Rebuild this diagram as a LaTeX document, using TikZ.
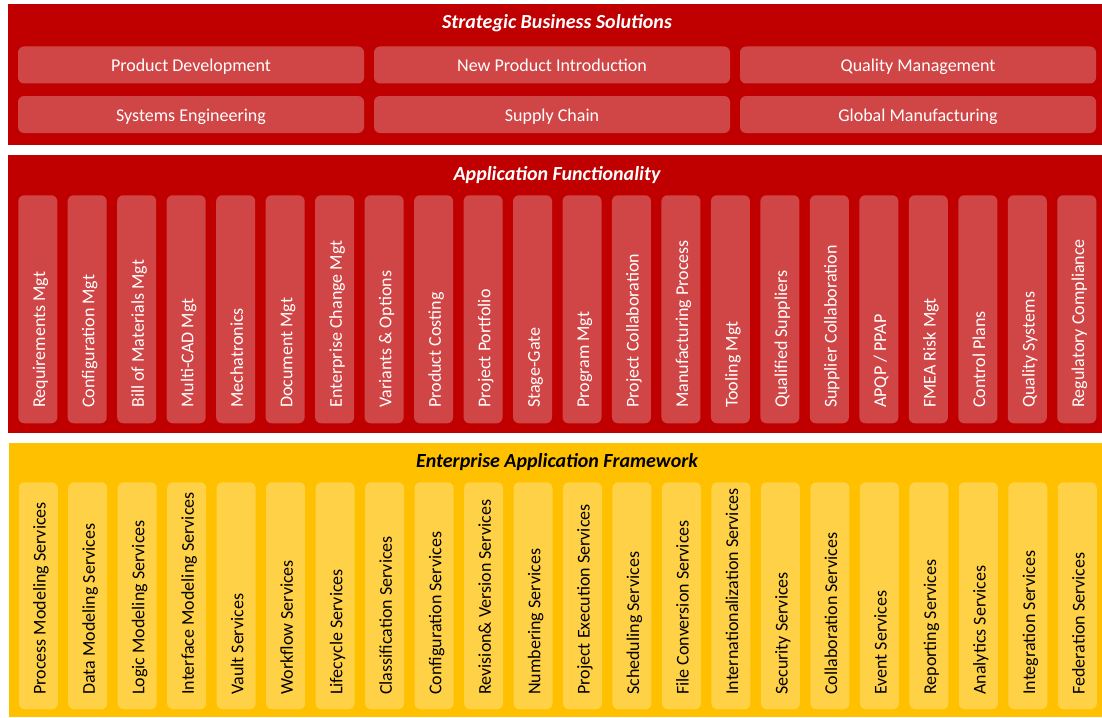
\documentclass[tikz,border=0pt]{standalone}
\usepackage{fontspec}
\setmainfont{Carlito}
\definecolor{panelred}{HTML}{C00000}
\definecolor{boxred}{HTML}{D04646}
\definecolor{panelyel}{HTML}{FFC000}
\definecolor{boxyel}{HTML}{FFD147}
\begin{document}
\begin{tikzpicture}[x=0.75pt,y=0.75pt,
  txt/.style={font=\fontsize{13.5}{16}\selectfont},
  ttl/.style={font=\fontsize{15}{18}\selectfont\bfseries\itshape, inner sep=0, anchor=base},
  panel/.style={rectangle, inner sep=0, draw=none, anchor=north west},
  topbox/.style={rectangle, fill=boxred, rounded corners=4.5pt, inner sep=0, text=white, txt,
    minimum height=37*0.75pt, text height=11pt, text depth=1pt},
  colred/.style={rectangle, fill=boxred, rounded corners=4.5pt, inner sep=0, anchor=north west,
    minimum width=39*0.75pt, minimum height=228*0.75pt},
  colyel/.style={rectangle, fill=boxyel, rounded corners=4.5pt, inner sep=0, anchor=north west,
    minimum width=39*0.75pt, minimum height=227*0.75pt},
  coltext/.style={txt, inner sep=0, anchor=base west, rotate=90}
]
\useasboundingbox (0,0) rectangle (1102,-717);
\fill[white] (0,0) rectangle (1102,-717);

% panels
\node[panel, fill=panelred, minimum width=1094*0.75pt, minimum height=141*0.75pt] (p1) at (8,-4) {};
\node[panel, fill=panelred, minimum width=1094*0.75pt, minimum height=277.7*0.75pt] (p2) at (8,-155) {};
\node[panel, fill=panelyel, minimum width=1093*0.75pt, minimum height=274.3*0.75pt] (p3) at (9,-442.7) {};

% titles
\node[ttl, text=white] (t1) at (557,-28.5) {Strategic Business Solutions};
\node[ttl, text=white] (t2) at (557,-180) {Application Functionality};
\node[ttl, text=black] (t3) at (557,-467) {Enterprise Application Framework};

% top boxes
\node[topbox, minimum width=346*0.75pt] (b1) at (191,-65) {Product Development};
\node[topbox, minimum width=356*0.75pt] (b2) at (552,-65) {New Product Introduction};
\node[topbox, minimum width=356*0.75pt] (b3) at (918,-65) {Quality Management};
\node[topbox, minimum width=346*0.75pt] (b4) at (191,-114.5) {Systems Engineering};
\node[topbox, minimum width=356*0.75pt] (b5) at (552,-114.5) {Supply Chain};
\node[topbox, minimum width=356*0.75pt] (b6) at (918,-114.5) {Global Manufacturing};

% application functionality columns
\foreach \t [count=\i from 0] in {Requirements Mgt, Configuration Mgt, Bill of Materials Mgt,
  Multi-CAD Mgt, Mechatronics, Document Mgt, Enterprise Change Mgt, Variants \& Options,
  Product Costing, Project Portfolio, Stage-Gate, Program Mgt, Project Collaboration,
  Manufacturing Process, Tooling Mgt, Qualified Suppliers, Supplier Collaboration,
  APQP / PPAP, FMEA Risk Mgt, Control Plans, Quality Systems, Regulatory Compliance}{
  \node[colred] (af\i) at ({18+\i*49.476},-195) {};
  \node[coltext, text=white] (aft\i) at ({18+\i*49.476+27},-408) {\t};
}

% framework columns
\foreach \t [count=\i from 0] in {Process Modeling Services, Data Modeling Services,
  Logic Modeling Services, Interface Modeling Services, Vault Services, Workflow Services,
  Lifecycle Services, Classification Services, Configuration Services,
  Revision\& Version Services, Numbering Services, Project Execution Services,
  Scheduling Services, File Conversion Services, Internationalization Services,
  Security Services, Collaboration Services, Event Services, Reporting Services,
  Analytics Services, Integration Services, Federation Services}{
  \node[colyel] (ef\i) at ({18.5+\i*49.476},-482) {};
  \node[coltext, text=black] (eft\i) at ({18.5+\i*49.476+27},-695) {\t};
}
\end{tikzpicture}
\end{document}
